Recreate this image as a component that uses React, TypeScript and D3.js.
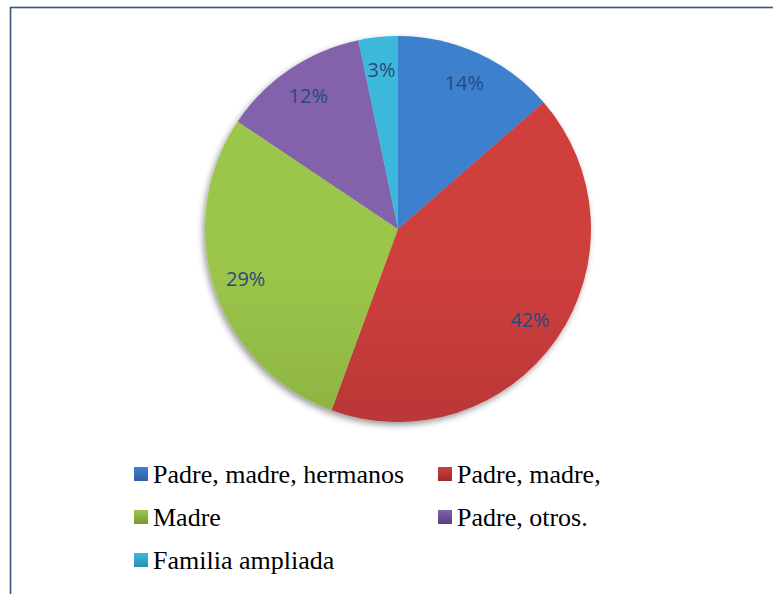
import React from "react";
import { pie, arc, scaleOrdinal } from "d3";

const categories = [
  "Padre, madre, hermanos",
  "Padre, madre,",
  "Madre",
  "Padre, otros.",
  "Familia ampliada",
];
const values = [13.6, 42.0, 28.8, 12.3, 3.3];
const topColors = ["#3e80cd", "#cf3f3e", "#9cc64b", "#8262ab", "#3ab8dc"];
const bottomColors = ["#2f619d", "#9b2b2b", "#769a33", "#5c3f7f", "#2a8fae"];

const W = 773;
const H = 594;
const cx = 398;
const cy = 229;
const r = 193;

const serif = "Liberation Serif, Tinos, DejaVu Serif, Times, serif";

const App = () => {
  const slices = pie<number>().sort(null).value((d) => d)(values);
  const sliceArc = arc<any>().innerRadius(0).outerRadius(r);
  const labelArc = arc<any>().innerRadius(r * 0.83).outerRadius(r * 0.83);
  const topColor = scaleOrdinal<string, string>().domain(categories).range(topColors);
  const bottomColor = scaleOrdinal<string, string>().domain(categories).range(bottomColors);

  // legend: two columns, three rows
  const colX = [134, 438];
  const rowY = [483, 526, 569];

  return (
    <svg
      width={W}
      height={H}
      style={{ position: "absolute", left: 0, top: 0, background: "#fff" }}
    >
      <defs>
        {categories.map((c, i) => (
          <linearGradient
            key={c}
            id={`g${i}`}
            gradientUnits="userSpaceOnUse"
            x1={0}
            y1={cy - r}
            x2={0}
            y2={cy + r}
          >
            <stop offset="0%" stopColor={topColor(c)} />
            <stop offset="100%" stopColor={bottomColor(c)} />
          </linearGradient>
        ))}
        {categories.map((c, i) => (
          <linearGradient key={c + "l"} id={`l${i}`} x1={0} y1={0} x2={0} y2={1}>
            <stop offset="0%" stopColor={topColor(c)} />
            <stop offset="100%" stopColor={bottomColor(c)} />
          </linearGradient>
        ))}
        <filter id="shadow" x="-10%" y="-10%" width="120%" height="120%">
          <feDropShadow dx={-2} dy={3} stdDeviation={3} floodColor="#000" floodOpacity={0.4} />
        </filter>
      </defs>

      <rect x={10.5} y={7.5} width={900} height={800} fill="none" stroke="#3b5577" strokeWidth={1.6} />

      <g transform={`translate(${cx},${cy})`}>
        <g filter="url(#shadow)">
          {slices.map((s, i) => (
            <path key={i} d={sliceArc(s) as string} fill={`url(#g${i})`} />
          ))}
        </g>
        {slices.map((s, i) => {
          const [x, y] = labelArc.centroid(s);
          return (
            <text
              key={"t" + i}
              x={x}
              y={y}
              dy="0.35em"
              textAnchor="middle"
              fontFamily="Open Sans, sans-serif"
              fontSize={20}
              fill="#2a4a7d"
            >
              {Math.round(s.data)}%
            </text>
          );
        })}
      </g>

      {categories.map((c, i) => {
        const x = colX[i % 2];
        const y = rowY[Math.floor(i / 2)];
        return (
          <g key={c}>
            <rect x={x} y={y - 16} width={14} height={14} fill={`url(#l${i})`} />
            <text x={x + 19} y={y} fill="#000" fontFamily={serif} fontSize={26}>
              {c}
            </text>
          </g>
        );
      })}
    </svg>
  );
};

export default App;
